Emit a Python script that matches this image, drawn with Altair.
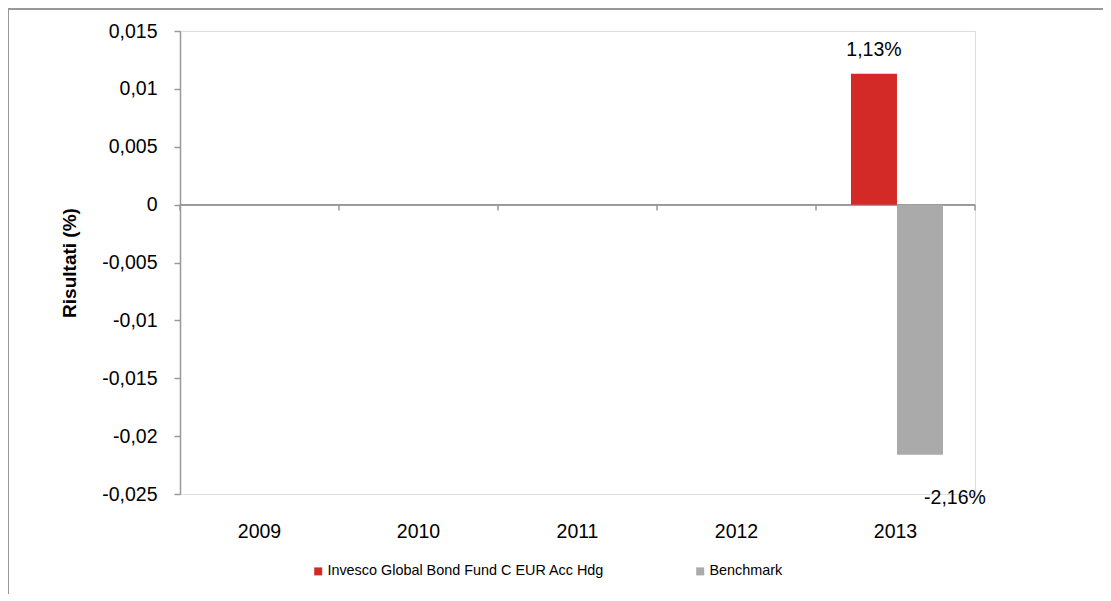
import altair as alt
import pandas as pd

years = ["2009", "2010", "2011", "2012", "2013"]
series_names = ["Invesco Global Bond Fund C EUR Acc Hdg", "Benchmark"]
fund_values = [None, None, None, None, 0.0113]
bench_values = [None, None, None, None, -0.0216]
fund_labels = ["", "", "", "", "1,13%"]
bench_labels = ["", "", "", "", "-2,16%"]
y_ticks = [-0.025, -0.02, -0.015, -0.01, -0.005, 0, 0.005, 0.01, 0.015]
colors = ["#d42a27", "#aaaaaa"]

rows = []
for i, y in enumerate(years):
    rows.append({"year": y, "series": series_names[0], "value": fund_values[i], "label": fund_labels[i]})
    rows.append({"year": y, "series": series_names[1], "value": bench_values[i], "label": bench_labels[i]})
df = pd.DataFrame(rows)

ticks_df = pd.DataFrame({"year": years})

FONT = "Liberation Sans"

x_enc = alt.X("year:N", sort=years,
              scale=alt.Scale(paddingInner=0, paddingOuter=0),
              axis=alt.Axis(title=None, domain=False, ticks=False, labelAngle=0,
                            labelFontSize=19.5, labelPadding=28, labelColor="#000000", labelFont=FONT))
y_scale = alt.Scale(domain=[-0.025, 0.015], nice=False, zero=False)
offset_scale = alt.Scale(paddingInner=0, paddingOuter=0.728, align=0.522)

bars = alt.Chart(df).mark_bar().encode(
    x=x_enc,
    xOffset=alt.XOffset("series:N", sort=series_names, scale=offset_scale),
    y=alt.Y("value:Q", scale=y_scale,
            axis=alt.Axis(title="Risultati (%)", values=y_ticks,
                          labelExpr="replace(datum.value + '', '.', ',')",
                          labelFontSize=19.5, labelColor="#000000", labelFont=FONT, labelPadding=17,
                          titleFontSize=19, titleFont=FONT, titleFontWeight="bold", titleColor="#000000",
                          titlePadding=22, domainColor="#999999", domainWidth=1.5,
                          tickColor="#999999", tickSize=6, tickWidth=1.5,
                          gridColor="#cccccc", gridWidth=1.5)),
    color=alt.Color("series:N", sort=series_names,
                    scale=alt.Scale(domain=series_names, range=colors),
                    legend=alt.Legend(title=None, orient="none", direction="horizontal",
                                      legendX=131, legendY=533, symbolType="square",
                                      symbolSize=64, symbolStrokeWidth=0, symbolOffset=0,
                                      labelFontSize=14.4, labelFont=FONT, labelColor="#000000",
                                      labelOffset=2, columnPadding=88, labelLimit=400))
)

fund_text = alt.Chart(df).transform_filter(
    alt.datum.series == series_names[0]
).mark_text(baseline="bottom", dy=-14, fontSize=19.5, font=FONT, color="#000000").encode(
    x=alt.X("year:N", sort=years),
    xOffset=alt.XOffset("series:N", sort=series_names),
    y=alt.Y("value:Q", scale=y_scale),
    text="label:N",
)

bench_text = alt.Chart(df).transform_filter(
    alt.datum.series == series_names[1]
).mark_text(baseline="middle", dy=43, dx=35, fontSize=19.5, font=FONT, color="#000000").encode(
    x=alt.X("year:N", sort=years),
    xOffset=alt.XOffset("series:N", sort=series_names),
    y=alt.Y("value:Q", scale=y_scale),
    text="label:N",
)

zero_line = alt.Chart(ticks_df).mark_rule(color="#999999", strokeWidth=1.5).encode(
    y=alt.datum(0)
)

cat_ticks = alt.Chart(ticks_df).mark_rule(color="#999999", strokeWidth=1.5).encode(
    x=alt.X("year:N", sort=years, bandPosition=0),
    y=alt.datum(0),
    y2=alt.datum(-0.0005),
)

end_tick = alt.Chart(ticks_df).transform_filter(
    alt.datum.year == years[-1]
).mark_rule(color="#999999", strokeWidth=1.5).encode(
    x=alt.X("year:N", sort=years, bandPosition=1),
    y=alt.datum(0),
    y2=alt.datum(-0.0005),
)

frame_left = alt.Chart(ticks_df).mark_rule(color="#999999", strokeWidth=1.5).encode(
    x=alt.value(-172), y=alt.value(-22), y2=alt.value(600)
)
frame_top = alt.Chart(ticks_df).mark_rule(color="#999999", strokeWidth=1.5).encode(
    x=alt.value(-172), x2=alt.value(1000), y=alt.value(-22)
)

chart = alt.layer(
    zero_line, bars, cat_ticks, end_tick, fund_text, bench_text, frame_left, frame_top
).properties(
    width=795, height=463,
    autosize=alt.AutoSizeParams(type="none"),
    padding={"left": 172, "top": 23, "right": 128, "bottom": 100},
).configure_view(stroke=None).configure(background="#ffffff")

chart.save("out.html", embed_options={"renderer": "svg", "actions": False})
